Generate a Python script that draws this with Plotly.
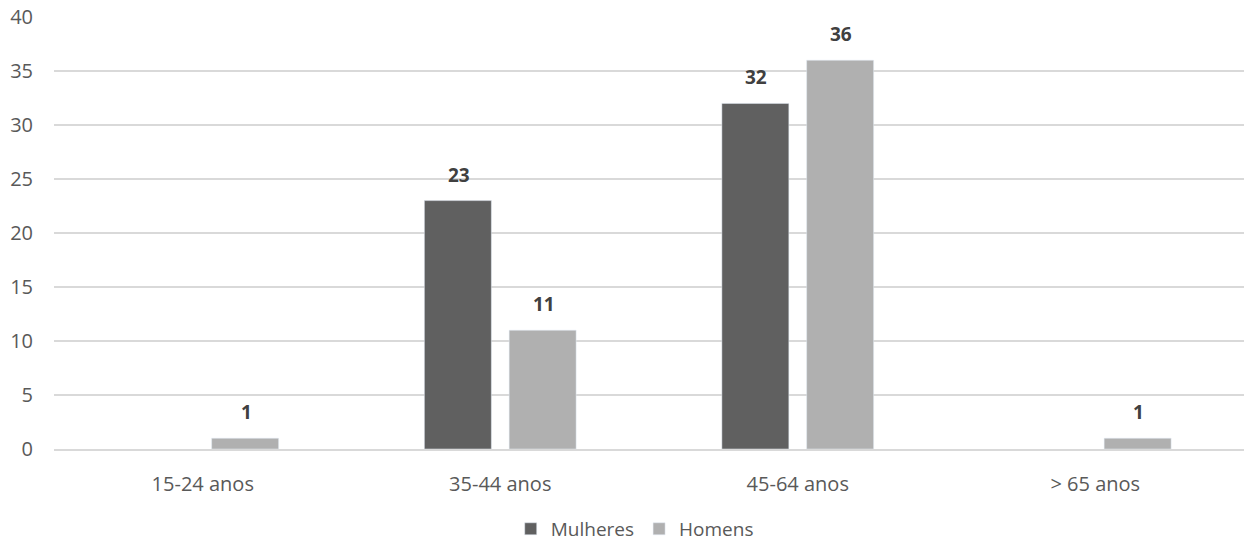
import plotly.graph_objects as go

categories = ["15-24 anos", "35-44 anos", "45-64 anos", "> 65 anos"]
mulheres = [None, 23, 32, None]
homens = [1, 11, 36, 1]

COLOR_M = "#606060"
COLOR_H = "#b0b0b0"
TEXT = "#595959"
LABEL = "#404040"
FONT = "Open Sans, Noto Sans, sans-serif"

BARGAP = 0.43
GROUPGAP = 0.21
PLOT_W = 1190  # plot area width in px

fig = go.Figure()
fig.add_trace(go.Bar(name="Mulheres", x=categories, y=mulheres, marker_color=COLOR_M))
fig.add_trace(go.Bar(name="Homens", x=categories, y=homens, marker_color=COLOR_H))

# value labels above each bar, shifted to the bar's slot within the group
slot = PLOT_W / len(categories) * (1 - BARGAP) / 2
annotations = []
for series, sign in ((mulheres, -1), (homens, 1)):
    for cat, v in zip(categories, series):
        if v is None:
            continue
        annotations.append(dict(
            x=cat, y=v, xref="x", yref="y", text=f"<b>{v}</b>", showarrow=False,
            xshift=sign * slot / 2 + 1, yshift=26, yanchor="middle",
            font=dict(family=FONT, size=19, color=LABEL),
        ))

fig.update_layout(
    width=1244, height=544,
    margin=dict(l=54, r=0, t=17, b=95, autoexpand=False),
    paper_bgcolor="white", plot_bgcolor="white",
    barmode="group", bargap=BARGAP, bargroupgap=GROUPGAP,
    font=dict(family=FONT, size=20, color=TEXT),
    showlegend=True,
    legend=dict(orientation="h", x=0.488, xanchor="center", y=-0.185, yanchor="middle",
                font=dict(size=19, color=TEXT), traceorder="normal"),
    annotations=annotations,
)
fig.update_yaxes(range=[0, 40], dtick=5, showgrid=True, gridcolor="#d9d9d9", gridwidth=2,
                 zeroline=False, showline=False, ticks="", ticklabelstandoff=20,
                 tickfont=dict(size=20, color=TEXT))
fig.update_xaxes(showline=True, linecolor="#d9d9d9", linewidth=2, ticks="",
                 ticklabelstandoff=16, tickfont=dict(size=20, color=TEXT))

fig.write_html("out.html")
